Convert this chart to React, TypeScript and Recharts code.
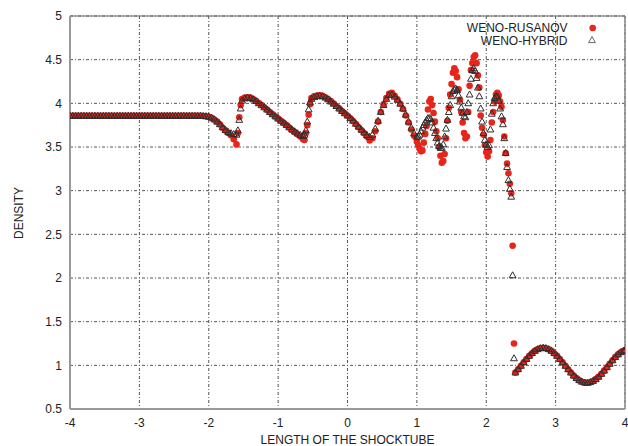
import { CartesianGrid, ReferenceLine, Scatter, ScatterChart, XAxis, YAxis } from "recharts"

// flat pre-shock state
const xFlat = [
  -4, -3.96, -3.92, -3.88, -3.84, -3.8, -3.76, -3.72, -3.68, -3.64,
  -3.6, -3.56, -3.52, -3.48, -3.44, -3.4, -3.36, -3.32, -3.28, -3.24,
  -3.2, -3.16, -3.12, -3.08, -3.04, -3, -2.96, -2.92, -2.88, -2.84,
  -2.8, -2.76, -2.72, -2.68, -2.64, -2.6, -2.56, -2.52, -2.48, -2.44,
  -2.4, -2.36, -2.32, -2.28, -2.24, -2.2, -2.16, -2.12,
]
const flatDensity = [
  3.857, 3.857, 3.857, 3.857, 3.857, 3.857, 3.857, 3.857, 3.857, 3.857,
  3.857, 3.857, 3.857, 3.857, 3.857, 3.857, 3.857, 3.857, 3.857, 3.857,
  3.857, 3.857, 3.857, 3.857, 3.857, 3.857, 3.857, 3.857, 3.857, 3.857,
  3.857, 3.857, 3.857, 3.857, 3.857, 3.857, 3.857, 3.857, 3.857, 3.857,
  3.857, 3.857, 3.857, 3.857, 3.857, 3.857, 3.857, 3.857,
]

// smooth waves behind the shock
const xPre = [
  -2.08, -2.04, -2, -1.96, -1.92, -1.88, -1.84, -1.8, -1.76, -1.72, -1.68, -1.64, -1.6, -1.58, -1.56, -1.54, -1.52,
  -1.48, -1.44, -1.4, -1.36, -1.32, -1.28, -1.24, -1.2, -1.16, -1.12, -1.08, -1.04, -1, -0.96, -0.92, -0.88, -0.84, -0.8, -0.76, -0.72, -0.68, -0.64,
  -0.62, -0.6, -0.58, -0.56, -0.54, -0.52,
  -0.48, -0.44, -0.4, -0.36, -0.32, -0.28, -0.24, -0.2, -0.16, -0.12, -0.08, -0.04, 0, 0.04, 0.08, 0.12, 0.16, 0.2, 0.24, 0.28, 0.32,
  0.36, 0.4, 0.44, 0.48, 0.52, 0.56, 0.6, 0.64, 0.68, 0.72, 0.76, 0.8, 0.84, 0.88, 0.92, 0.96, 1,
]
const rusanovPre = [
  3.855, 3.852, 3.846, 3.835, 3.815, 3.79, 3.76, 3.72, 3.69, 3.66, 3.635, 3.59, 3.53, 3.66, 3.84, 3.98, 4.05,
  4.065, 4.07, 4.065, 4.05, 4.028, 4.003, 3.98, 3.955, 3.928, 3.9, 3.875, 3.85, 3.825, 3.8, 3.776, 3.75, 3.722, 3.695, 3.67, 3.645, 3.62, 3.59,
  3.58, 3.66, 3.75, 3.87, 3.99, 4.06,
  4.08, 4.09, 4.092, 4.085, 4.07, 4.05, 4.025, 3.998, 3.97, 3.942, 3.913, 3.886, 3.858, 3.828, 3.797, 3.762, 3.727, 3.692, 3.658, 3.62, 3.575,
  3.6, 3.68, 3.79, 3.9, 3.99, 4.06, 4.11, 4.12, 4.085, 4.045, 3.995, 3.935, 3.86, 3.78, 3.7, 3.63, 3.56,
]
const hybridPre = [
  3.855, 3.852, 3.846, 3.835, 3.815, 3.79, 3.76, 3.725, 3.695, 3.672, 3.657, 3.647, 3.64, 3.69, 3.81, 3.94, 4.03,
  4.055, 4.065, 4.06, 4.045, 4.025, 4.0, 3.978, 3.954, 3.928, 3.9, 3.875, 3.85, 3.825, 3.8, 3.778, 3.752, 3.726, 3.7, 3.677, 3.655, 3.637, 3.625,
  3.64, 3.69, 3.79, 3.93, 4.01, 4.05,
  4.07, 4.08, 4.085, 4.08, 4.065, 4.045, 4.02, 3.995, 3.968, 3.94, 3.912, 3.886, 3.86, 3.83, 3.8, 3.766, 3.732, 3.698, 3.666, 3.636, 3.615,
  3.64, 3.71, 3.8, 3.9, 3.98, 4.05, 4.095, 4.1, 4.075, 4.04, 3.995, 3.94, 3.87, 3.79, 3.72, 3.655, 3.615,
]

// high-frequency region up to the shock
const xShock = [
  1.02, 1.04, 1.06, 1.08, 1.1, 1.12, 1.14, 1.16, 1.18, 1.2,
  1.22, 1.24, 1.26, 1.28, 1.3, 1.32, 1.34, 1.36, 1.38, 1.4,
  1.42, 1.44, 1.46, 1.48, 1.5, 1.52, 1.54, 1.56, 1.58, 1.6,
  1.62, 1.64, 1.66, 1.68, 1.7, 1.72, 1.74, 1.76, 1.78, 1.8,
  1.82, 1.84, 1.86, 1.88, 1.9, 1.92, 1.94, 1.96, 1.98, 2,
  2.02, 2.04, 2.06, 2.08, 2.1, 2.12, 2.14, 2.16, 2.18, 2.2,
  2.22, 2.24, 2.26, 2.28, 2.3, 2.32, 2.34, 2.36, 2.38, 2.4,
]
const rusanovShock = [
  3.52, 3.48, 3.45, 3.46, 3.55, 3.65, 3.74, 3.93, 4.02, 4.05,
  3.98, 3.89, 3.79, 3.68, 3.6, 3.5, 3.4, 3.32, 3.34, 3.42,
  3.6, 3.8, 3.95, 4.1, 4.22, 4.35, 4.4, 4.37, 4.3, 4.16,
  4.04, 3.9, 3.78, 3.66, 3.6, 3.62, 3.9, 4.2, 4.38, 4.46,
  4.53, 4.55, 4.46, 4.32, 4.18, 3.86, 3.72, 3.64, 3.52, 3.44,
  3.39, 3.45, 3.58, 3.78, 3.9, 4.02, 4.1, 4.12, 4.09, 4.02,
  3.96, 3.81, 3.62, 3.43, 3.31, 3.2, 3.08, 2.97, 2.37, 1.25,
]
const hybridShock = [
  3.62, 3.64, 3.68, 3.72, 3.75, 3.78, 3.81, 3.83, 3.83, 3.82,
  3.78, 3.72, 3.66, 3.6, 3.55, 3.51, 3.49, 3.49, 3.53, 3.62,
  3.71, 3.81, 3.9, 3.98, 4.08, 4.14, 4.16, 4.17, 4.15, 4.09,
  4.02, 3.95, 3.89, 3.85, 3.84, 3.9, 4.0, 4.1, 4.28, 4.38,
  4.4, 4.37, 4.29, 4.18, 4.08, 3.94, 3.79, 3.66, 3.58, 3.53,
  3.5, 3.52, 3.7, 3.88, 4.0, 4.06, 4.08, 4.08, 4.03, 3.94,
  3.85, 3.76, 3.6, 3.43, 3.27, 3.12, 3.02, 2.93, 2.03, 1.08,
]

// undisturbed sine wave ahead of the shock (both schemes agree)
const xPost = [
  2.42, 2.46, 2.5, 2.54, 2.58, 2.62, 2.66, 2.7, 2.74, 2.78,
  2.82, 2.86, 2.9, 2.94, 2.98, 3.02, 3.06, 3.1, 3.14, 3.18,
  3.22, 3.26, 3.3, 3.34, 3.38, 3.42, 3.46, 3.5, 3.54, 3.58,
  3.62, 3.66, 3.7, 3.74, 3.78, 3.82, 3.86, 3.9, 3.94, 3.98, 4,
]
const densityPost = [
  0.917, 0.955, 0.994, 1.034, 1.072, 1.108, 1.139, 1.165, 1.184, 1.196,
  1.2, 1.196, 1.184, 1.165, 1.139, 1.108, 1.072, 1.034, 0.994, 0.955,
  0.917, 0.882, 0.853, 0.829, 0.812, 0.802, 0.8, 0.807, 0.821, 0.842,
  0.869, 0.902, 0.939, 0.978, 1.017, 1.057, 1.094, 1.125, 1.15, 1.165, 1.17,
]

const xTicks = [-4, -3, -2, -1, 0, 1, 2, 3, 4]
const yTicks = [0.5, 1, 1.5, 2, 2.5, 3, 3.5, 4, 4.5, 5]

const zip = (xs: number[], ys: number[]) => xs.map((x, i) => ({ x, y: ys[i] }))

const rusanovData = [
  ...zip(xFlat, flatDensity),
  ...zip(xPre, rusanovPre),
  ...zip(xShock, rusanovShock),
  ...zip(xPost, densityPost),
]
const hybridData = [
  ...zip(xFlat, flatDensity),
  ...zip(xPre, hybridPre),
  ...zip(xShock, hybridShock),
  ...zip(xPost, densityPost),
]

const RED = "#e8251b"
const TRI = "#2e2e2e"
const FONT = "'Liberation Sans', Arial, sans-serif"

const Dot = (p: any) => <circle cx={p.cx} cy={p.cy} r={3.3} fill={RED} />
const Tri = (p: any) => (
  <polygon
    points={`${p.cx},${p.cy - 3.6} ${p.cx - 3.4},${p.cy + 2.4} ${p.cx + 3.4},${p.cy + 2.4}`}
    fill="none"
    stroke={TRI}
    strokeWidth={1}
  />
)

export default function App() {
  const tick = { fontSize: 12, fill: "#222", fontFamily: FONT }
  return (
    <div style={{ position: "absolute", left: 0, top: 0, width: 628, height: 446, background: "#fff" }}>
      <ScatterChart width={628} height={446} margin={{ top: 16, right: 3, bottom: 7, left: 0 }}>
        <CartesianGrid stroke="#555" strokeDasharray="3 2 1 2" />
        <XAxis
          type="number"
          dataKey="x"
          domain={[-4, 4]}
          ticks={xTicks}
          allowDataOverflow
          height={30}
          tick={tick}
          tickLine={false}
          tickSize={6}
          tickMargin={3}
          axisLine={{ stroke: "#999", strokeWidth: 2 }}
        />
        <YAxis
          type="number"
          dataKey="y"
          domain={[0.5, 5]}
          ticks={yTicks}
          allowDataOverflow
          width={70}
          tick={tick}
          tickLine={false}
          tickSize={6}
          tickMargin={2}
          axisLine={{ stroke: "#999", strokeWidth: 2 }}
        />
        <ReferenceLine y={5} stroke="#666" strokeWidth={1.2} />
        <ReferenceLine x={4} stroke="#888" strokeWidth={1.5} />
        <Scatter data={rusanovData} shape={Dot} isAnimationActive={false} />
        <Scatter data={hybridData} shape={Tri} isAnimationActive={false} />
      </ScatterChart>
      <svg width={628} height={446} style={{ position: "absolute", left: 0, top: 0, pointerEvents: "none" }}>
        <g fontFamily={FONT} fontSize={12} fill="#222">
          <text x={347.5} y={444} textAnchor="middle">LENGTH OF THE SHOCKTUBE</text>
          <text transform="translate(23,213) rotate(-90)" textAnchor="middle">DENSITY</text>
          <text x={567.5} y={31.5} textAnchor="end">WENO-RUSANOV</text>
          <text x={567.5} y={44.5} textAnchor="end">WENO-HYBRID</text>
        </g>
        <circle cx={592.7} cy={28} r={3.3} fill={RED} />
        <polygon points="592,36.6 588.6,42.6 595.4,42.6" fill="none" stroke="#555" strokeWidth={0.9} />
      </svg>
    </div>
  )
}
